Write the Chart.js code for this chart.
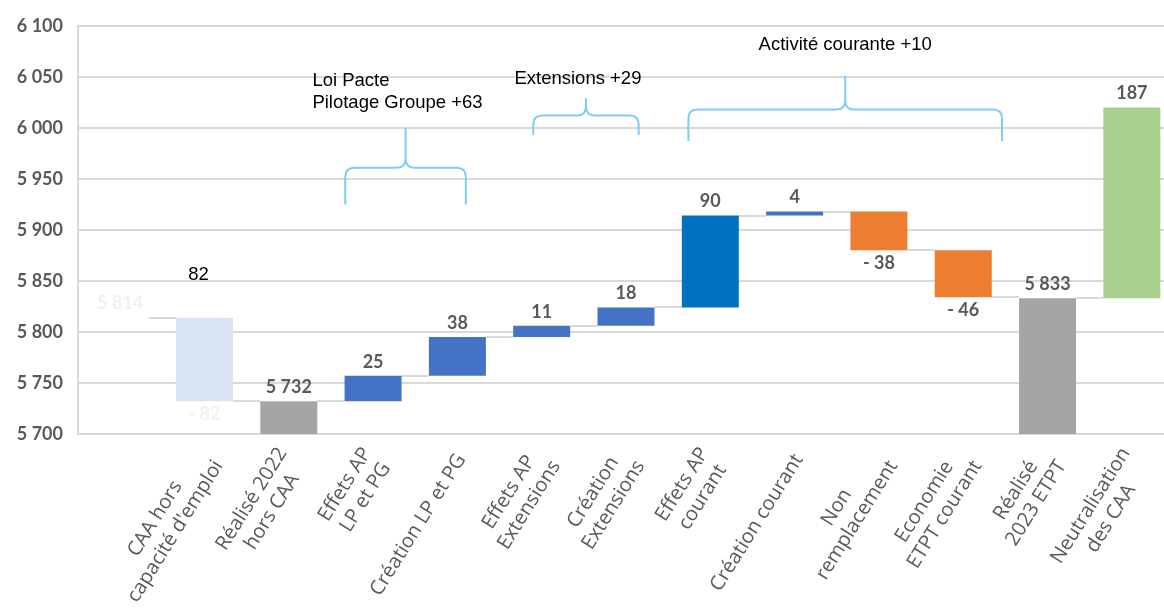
<!DOCTYPE html>
<html>
<head>
<meta charset="utf-8">
<script src="https://cdn.jsdelivr.net/npm/chart.js@4.4.1/dist/chart.umd.min.js"></script>
<style>
html, body { margin: 0; padding: 0; overflow: hidden; background: #fff; }
#wrap { width: 1176px; height: 615px; }
</style>
</head>
<body>
<div id="wrap"><canvas id="chart" width="1176" height="615"></canvas></div>
<script>
'use strict';

// first category is the hidden starting point (5 814), no label
var categories = ['', ['CAA hors', "capacité d'emploi"], ['Réalisé 2022', 'hors CAA'],
  ['Effets AP', 'LP et PG'], ['Création LP et PG'], ['Effets AP', 'Extensions'],
  ['Création', 'Extensions'], ['Effets AP', 'courant'], ['Création courant'],
  ['Non', 'remplacement'], ['Economie', 'ETPT courant'], ['Réalisé', '2023 ETPT'],
  ['Neutralisation', 'des CAA']];
var values = [5814, -82, 5732, 25, 38, 11, 18, 90, 4, -38, -46, 5833, 187];
var isTotal = [true, false, true, false, false, false, false, false, false, false, false, true, false];
var valueLabels = ['5 814', '- 82', '5 732', '25', '38', '11', '18', '90', '4', '- 38', '- 46', '5 833', '187'];
var yTicks = [5700, 5750, 5800, 5850, 5900, 5950, 6000, 6050, 6100];
var yTickLabels = ['5 700', '5 750', '5 800', '5 850', '5 900', '5 950', '6 000', '6 050', '6 100'];
var axisMin = 5700, axisMax = 6100;

// styles
var barColors = ['rgba(0,0,0,0)', '#dae3f3', '#a5a5a5', '#4472c4', '#4472c4', '#4472c4', '#4472c4',
  '#0070c0', '#4472c4', '#ed7d31', '#ed7d31', '#a5a5a5', '#a9d18e'];
var labelColors = ['#f1f1f1', '#f1f1f1', '#595959', '#595959', '#595959', '#595959', '#595959',
  '#595959', '#595959', '#595959', '#595959', '#595959', '#595959'];

// braces and text boxes, positioned in category index / axis value units
var braces = [
  { from: 2.67, to: 4.10, base: 5925, arm: 5961, top: 6000 },
  { from: 4.90, to: 6.15, base: 5993, arm: 6012, top: 6029 },
  { from: 6.74, to: 10.46, base: 5987, arm: 6018, top: 6051 }
];
var notes = [
  { lines: ['Loi Pacte', 'Pilotage Groupe +63'], x: 2.28, y: 6046, align: 'left' },
  { lines: ['Extensions +29'], x: 5.43, y: 6048, align: 'center' },
  { lines: ['Activité courante +10'], x: 8.6, y: 6081, align: 'center' },
  { lines: ['82'], x: 0.93, y: 5856, align: 'center' }
];

var bars = [], levels = [];
var running = 0;
values.forEach(function (v, i) {
  if (isTotal[i]) {
    bars.push([axisMin, v]);
    running = v;
  } else {
    bars.push([running, running + v]);
    running += v;
  }
  levels.push(running);
});

var waterfallDecor = {
  id: 'waterfallDecor',
  beforeDatasetsDraw: function (chart) {
    var ctx = chart.ctx, y = chart.scales.y, meta = chart.getDatasetMeta(0);
    ctx.save();
    ctx.strokeStyle = '#d9d9d9';
    ctx.lineWidth = 2;
    for (var i = 0; i < meta.data.length - 1; i++) {
      var a = meta.data[i], b = meta.data[i + 1];
      var py = Math.round(y.getPixelForValue(levels[i]));
      ctx.beginPath();
      ctx.moveTo(a.x + a.width / 2, py);
      ctx.lineTo(b.x - b.width / 2, py);
      ctx.stroke();
    }
    ctx.restore();
  },
  afterDraw: function (chart) {
    var ctx = chart.ctx, x = chart.scales.x, y = chart.scales.y, meta = chart.getDatasetMeta(0);
    ctx.save();

    // value labels
    ctx.font = 'bold 18px Lato';
    ctx.textAlign = 'center';
    ctx.textBaseline = 'middle';
    meta.data.forEach(function (el, i) {
      var top = Math.min(el.y, el.base), bottom = Math.max(el.y, el.base);
      ctx.fillStyle = labelColors[i];
      ctx.fillText(valueLabels[i], el.x, values[i] < 0 ? bottom + 13 : top - 14);
    });

    // braces
    ctx.strokeStyle = '#7dcdf5';
    ctx.lineWidth = 2;
    braces.forEach(function (b) {
      var xl = x.getPixelForValue(b.from), xr = x.getPixelForValue(b.to);
      var xt = (xl + xr) / 2;
      var yb = y.getPixelForValue(b.base), ya = y.getPixelForValue(b.arm), yt = y.getPixelForValue(b.top);
      var r = 9;
      ctx.beginPath();
      ctx.moveTo(xl, yb);
      ctx.lineTo(xl, ya + r);
      ctx.quadraticCurveTo(xl, ya, xl + r, ya);
      ctx.lineTo(xt - r, ya);
      ctx.quadraticCurveTo(xt, ya, xt, ya - r);
      ctx.lineTo(xt, yt);
      ctx.moveTo(xt, ya - r);
      ctx.quadraticCurveTo(xt, ya, xt + r, ya);
      ctx.lineTo(xr - r, ya);
      ctx.quadraticCurveTo(xr, ya, xr, ya + r);
      ctx.lineTo(xr, yb);
      ctx.stroke();
    });

    // text boxes
    ctx.fillStyle = '#000';
    ctx.font = '18.5px "Liberation Sans"';
    notes.forEach(function (n) {
      ctx.textAlign = n.align;
      var px = x.getPixelForValue(n.x), py = y.getPixelForValue(n.y);
      n.lines.forEach(function (line, j) {
        ctx.fillText(line, px, py + j * 22);
      });
    });

    // rotated category labels
    ctx.fillStyle = '#595959';
    ctx.font = '20px "Open Sans"';
    var lh = 24;
    categories.forEach(function (lab, i) {
      if (!lab) return;
      var lines = [].concat(lab);
      var w = 0;
      lines.forEach(function (l) { w = Math.max(w, ctx.measureText(l).width); });
      ctx.save();
      ctx.translate(x.getPixelForTick(i) + 4, y.bottom + 22);
      ctx.rotate(-Math.PI * 58 / 180);
      ctx.textAlign = 'center';
      lines.forEach(function (l, j) {
        ctx.fillText(l, -w / 2, (j - (lines.length - 1) / 2) * lh);
      });
      ctx.restore();
    });

    ctx.restore();
  }
};

var chart = new Chart(document.getElementById('chart'), {
  type: 'bar',
  data: {
    labels: categories,
    datasets: [{
      data: bars,
      backgroundColor: barColors,
      barPercentage: 0.676,
      categoryPercentage: 1
    }]
  },
  options: {
    responsive: false,
    animation: false,
    layout: { padding: { top: 22, right: 2, left: 0, bottom: 0 } },
    plugins: { legend: { display: false }, tooltip: { enabled: false } },
    scales: {
      x: {
        grid: { display: false },
        border: { display: false },
        ticks: { display: false },
        afterFit: function (s) { s.height = 181; }
      },
      y: {
        min: axisMin,
        max: axisMax,
        afterBuildTicks: function (s) {
          s.ticks = yTicks.map(function (v) { return { value: v }; });
        },
        ticks: {
          padding: 15,
          color: '#595959',
          font: { family: 'Lato', size: 18, weight: 'bold' },
          callback: function (v, i) { return yTickLabels[i]; }
        },
        grid: { color: '#d9d9d9', lineWidth: 2, drawTicks: false },
        border: { color: '#d9d9d9', width: 2 },
        afterFit: function (s) { s.width = 78; }
      }
    }
  },
  plugins: [waterfallDecor]
});
</script>
</body>
</html>
